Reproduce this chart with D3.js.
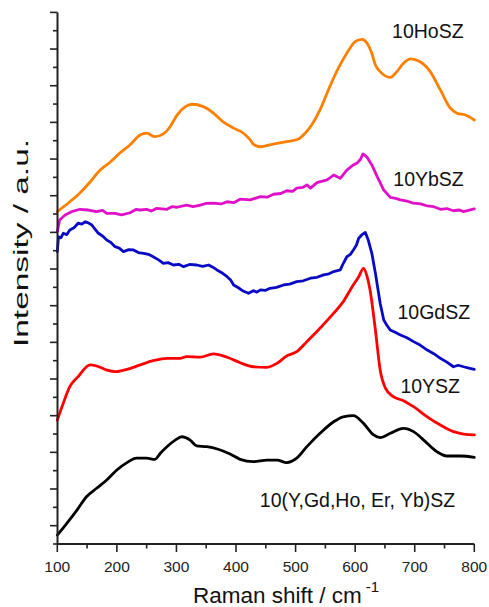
<!DOCTYPE html>
<html>
<head>
<meta charset="utf-8">
<script src="https://cdn.jsdelivr.net/npm/d3@7"></script>
<style>
  html, body { margin: 0; padding: 0; background: #fff; }
  svg { display: block; font-family: "Liberation Sans", Arial, sans-serif; }
</style>
</head>
<body>
<svg id="chart" width="489" height="607"></svg>
<script>
// Raman spectra, wavenumber (cm-1) vs. offset intensity (a.u.)
const seriesNames = ["10HoSZ", "10YbSZ", "10GdSZ", "10YSZ", "10(Y,Gd,Ho, Er, Yb)SZ"];

const hoSZ = [
  [100,18.13],[121,18.67],[138,19.15],[155,19.75],[172,20.40],[189,20.84],[205,21.33],[222,21.77],
  [239,22.31],[250,22.41],[264,22.22],[278,22.37],[289,22.75],[301,23.40],[315,23.86],[326,23.99],
  [345,23.86],[362,23.51],[378,23.04],[395,22.70],[412,22.42],[424,22.04],[429,21.82],[441,21.67],
  [462,21.82],[485,21.95],[504,22.08],[516,22.41],[527,22.86],[541,23.68],[555,24.77],[572,25.97],
  [586,26.77],[600,27.40],[611,27.53],[620,27.32],[628,26.77],[634,26.13],[642,25.77],[659,25.46],
  [670,25.77],[681,26.22],[693,26.46],[709,26.31],[726,25.77],[743,24.77],[760,23.77],[771,23.50],
  [785,23.40],[800,23.13]
];

const ybSZ = [
  [100,17.04],[104,17.68],[113,17.95],[124,18.13],[138,18.26],[152,18.22],[166,18.13],[176,18.20],
  [183,18.04],[197,18.04],[208,17.95],[222,18.07],[232,18.25],[239,18.22],[250,18.26],[258,18.16],
  [267,18.31],[284,18.26],[292,18.40],[301,18.37],[317,18.49],[328,18.40],[340,18.49],[350,18.58],
  [362,18.59],[375,18.55],[385,18.67],[396,18.62],[407,18.81],[424,18.77],[441,18.95],[452,18.92],
  [463,19.08],[475,19.12],[485,19.27],[495,19.24],[502,19.41],[512,19.45],[519,19.59],[525,19.41],
  [536,19.71],[545,19.80],[553,19.86],[564,20.13],[575,19.95],[586,20.40],[597,20.68],[604,20.80],
  [609,20.99],[613,21.28],[620,21.10],[628,20.68],[637,20.04],[648,19.31],[659,18.91],[668,18.85],
  [676,18.77],[687,18.70],[698,18.59],[710,18.55],[721,18.44],[732,18.40],[743,18.26],[754,18.30],
  [765,18.18],[775,18.22],[782,18.13],[790,18.20],[800,18.28]
];

const gdSZ = [
  [100,15.95],[102,16.76],[106,16.70],[110,16.95],[116,16.88],[121,17.13],[128,17.25],[135,17.50],
  [141,17.45],[147,17.58],[152,17.52],[158,17.40],[164,17.15],[169,16.95],[176,16.80],[183,16.58],
  [190,16.45],[197,16.22],[204,16.14],[211,15.95],[220,16.06],[228,16.04],[236,15.90],[245,15.86],
  [253,15.80],[261,15.67],[270,15.50],[278,15.31],[286,15.35],[295,15.22],[304,15.26],[312,15.13],
  [322,15.25],[334,15.22],[344,15.15],[354,15.22],[361,15.10],[368,14.95],[376,14.80],[385,14.58],
  [391,14.40],[396,14.13],[404,13.98],[412,13.80],[421,13.68],[429,13.82],[435,13.74],[441,13.86],
  [449,13.83],[457,13.95],[468,14.00],[480,14.13],[490,14.18],[502,14.31],[513,14.36],[525,14.50],
  [536,14.55],[547,14.68],[556,14.74],[564,14.86],[575,14.95],[580,15.30],[586,15.67],[592,15.80],
  [597,16.04],[602,16.30],[606,16.68],[611,16.86],[617,17.00],[622,16.58],[628,15.86],[634,14.77],
  [642,13.13],[648,12.22],[653,11.95],[659,11.67],[667,11.55],[676,11.40],[687,11.25],[698,11.04],
  [709,10.85],[721,10.58],[732,10.38],[743,10.13],[754,9.92],[765,9.67],[773,9.75],[782,9.67],
  [791,9.60],[800,9.53]
];

const ySZ = [
  [100,6.76],[110,7.68],[121,8.58],[135,9.13],[155,9.77],[166,9.71],[183,9.49],[197,9.40],
  [217,9.53],[239,9.77],[261,10.00],[284,10.13],[306,10.13],[317,10.22],[340,10.19],[362,10.37],
  [385,10.19],[407,9.89],[429,9.67],[452,9.64],[469,9.86],[485,10.26],[502,10.49],[519,11.04],
  [541,11.77],[564,12.59],[580,13.22],[595,14.04],[606,14.58],[614,15.04],[620,14.60],[625,13.86],
  [634,11.67],[642,9.49],[651,8.49],[664,8.04],[681,7.82],[698,7.49],[721,6.94],[743,6.49],
  [765,6.13],[782,6.00],[800,5.95]
];

const mixSZ = [
  [100,0.49],[116,1.13],[133,1.85],[149,2.58],[166,3.04],[183,3.49],[200,4.04],[217,4.44],
  [233,4.68],[250,4.68],[264,4.62],[273,4.95],[284,5.31],[298,5.67],[309,5.85],[323,5.67],
  [334,5.35],[351,5.31],[370,5.17],[390,4.91],[407,4.62],[429,4.49],[452,4.58],[469,4.58],
  [485,4.44],[502,4.68],[519,5.31],[541,6.04],[564,6.67],[580,6.94],[597,7.00],[614,6.58],
  [631,5.95],[642,5.80],[659,6.04],[681,6.31],[698,6.13],[715,5.67],[737,5.04],[754,4.80],
  [777,4.80],[800,4.73]
];

const xTickValues = [100, 200, 300, 400, 500, 600, 700, 800];
const xMinorTicks = [150, 250, 350, 450, 550, 650, 750];

const svg = d3.select("#chart");
const x = d3.scaleLinear().domain([100, 800]).range([57.3, 474.3]);
const y = d3.scaleLinear().domain([0, 29]).range([544, 12.4]);

// spectra
const series = [
  { name: seriesNames[0], data: hoSZ,  color: "#ff8000", curve: d3.curveMonotoneX, lx: 662, ly: 27.60 },
  { name: seriesNames[1], data: ybSZ,  color: "#e010c8", curve: d3.curveLinear,    lx: 664, ly: 19.53 },
  { name: seriesNames[2], data: gdSZ,  color: "#0a0ac4", curve: d3.curveLinear,    lx: 671, ly: 12.27 },
  { name: seriesNames[3], data: ySZ,   color: "#ff0000", curve: d3.curveMonotoneX, lx: 676, ly: 8.25 },
  { name: seriesNames[4], data: mixSZ, color: "#000000", curve: d3.curveMonotoneX, lx: 440, ly: 2.03 }
];

series.forEach(s => {
  const line = d3.line().x(d => x(d[0])).y(d => y(d[1])).curve(s.curve);
  svg.append("path")
    .datum(s.data)
    .attr("d", line)
    .attr("fill", "none")
    .attr("stroke", s.color)
    .attr("stroke-width", 2.8)
    .attr("stroke-linejoin", "round")
    .attr("stroke-linecap", "round");
  svg.append("text")
    .attr("x", x(s.lx))
    .attr("y", y(s.ly))
    .attr("font-size", 19.5)
    .attr("fill", "#111")
    .text(s.name);
});

// x axis
const xAxis = svg.append("g").attr("transform", "translate(0,544)");
xAxis.append("line")
  .attr("x1", x(100)).attr("x2", x(800))
  .attr("stroke", "#222").attr("stroke-width", 2);
xAxis.selectAll("line.major").data(xTickValues).join("line")
  .attr("class", "major")
  .attr("x1", d => x(d)).attr("x2", d => x(d))
  .attr("y1", 0).attr("y2", 8)
  .attr("stroke", "#222").attr("stroke-width", 1.6);
xAxis.selectAll("line.minor").data(xMinorTicks).join("line")
  .attr("class", "minor")
  .attr("x1", d => x(d)).attr("x2", d => x(d))
  .attr("y1", 0).attr("y2", 4.5)
  .attr("stroke", "#222").attr("stroke-width", 1.6);
xAxis.selectAll("text").data(xTickValues).join("text")
  .attr("x", d => x(d))
  .attr("y", 28)
  .attr("text-anchor", "middle")
  .attr("font-size", 15.5)
  .attr("fill", "#222")
  .text(d => d);

// y axis (no numbers, intensity is in arbitrary units)
const yAxis = svg.append("g").attr("transform", "translate(57.5,0)");
yAxis.append("line")
  .attr("y1", y(0)).attr("y2", y(29))
  .attr("stroke", "#222").attr("stroke-width", 2);
yAxis.selectAll("line.tick").data(d3.range(0, 30)).join("line")
  .attr("class", "tick")
  .attr("x1", d => (d % 2 === 1 ? -7.5 : -4.5)).attr("x2", 0)
  .attr("y1", d => y(d)).attr("y2", d => y(d))
  .attr("stroke", "#222").attr("stroke-width", 1.6);

// axis titles
const xTitle = svg.append("text")
  .attr("x", 286).attr("y", 603)
  .attr("text-anchor", "middle")
  .attr("font-size", 22.5)
  .attr("fill", "#111");
xTitle.append("tspan").text("Raman shift / cm");
xTitle.append("tspan").attr("font-size", 15).attr("dx", 4).attr("dy", -11).text("-1");

svg.append("text")
  .attr("transform", "translate(28,243) rotate(-90)")
  .attr("text-anchor", "middle")
  .attr("font-size", 20.5)
  .attr("textLength", 208)
  .attr("lengthAdjust", "spacingAndGlyphs")
  .attr("fill", "#111")
  .text("Intensity / a.u.");
</script>
</body>
</html>
